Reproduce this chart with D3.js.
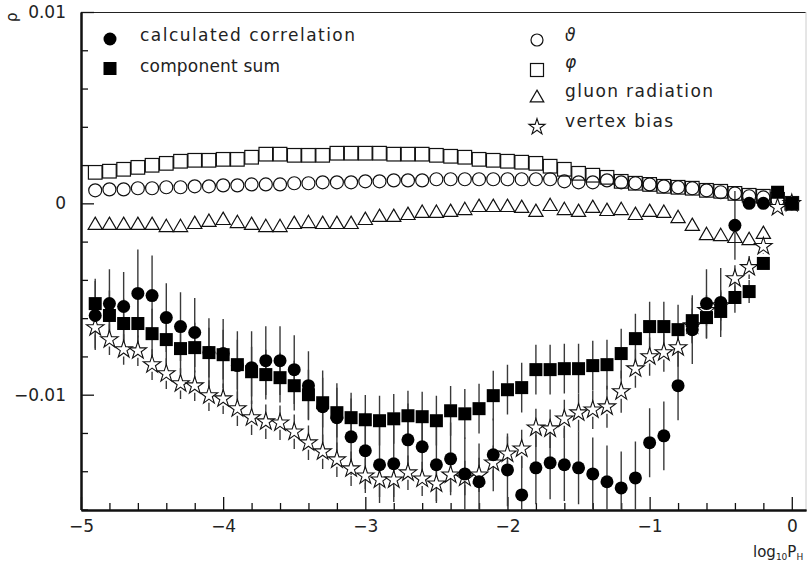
<!DOCTYPE html>
<html>
<head>
<meta charset="utf-8">
<script src="https://cdn.jsdelivr.net/npm/d3@7"></script>
<style>
  html, body { margin: 0; padding: 0; background: #fff; }
  svg { display: block; }
  text { font-family: "DejaVu Sans", sans-serif; fill: #222; }
</style>
</head>
<body>
<script>
// ---- data (log10 P_H bin centres) ----
const xBins = [-4.9,-4.8,-4.7,-4.6,-4.5,-4.4,-4.3,-4.2,-4.1,-4.0,
               -3.9,-3.8,-3.7,-3.6,-3.5,-3.4,-3.3,-3.2,-3.1,-3.0,
               -2.9,-2.8,-2.7,-2.6,-2.5,-2.4,-2.3,-2.2,-2.1,-2.0,
               -1.9,-1.8,-1.7,-1.6,-1.5,-1.4,-1.3,-1.2,-1.1,-1.0,
               -0.9,-0.8,-0.7,-0.6,-0.5,-0.4,-0.3,-0.2,-0.1,0.0];

// calculated correlation (filled circles)
const calcCorr = [-0.00586,-0.00524,-0.00539,-0.00471,-0.00482,-0.00597,-0.00644,-0.00675,-0.00780,-0.00785,
                  -0.00848,-0.00859,-0.00822,-0.00822,-0.00869,-0.00953,-0.01063,-0.01120,-0.01220,-0.01293,
                  -0.01366,-0.01361,-0.01236,-0.01272,-0.01366,-0.01335,-0.01414,-0.01455,-0.01314,-0.01393,
                  -0.01524,-0.01382,-0.01356,-0.01366,-0.01382,-0.01414,-0.01455,-0.01487,-0.01435,-0.01251,
                  -0.01215,-0.00953,-0.00660,-0.00524,-0.00518,-0.00115,0.00000,0.00000,null,0.00000];
const calcErr = [0.0018,0.0018,0.0018,0.0023,0.0021,0.0018,0.0018,0.0018,0.0018,0.0018,
                 0.0018,0.0019,0.0018,0.0018,0.0018,0.0018,0.0019,0.0018,0.0020,0.0020,
                 0.0020,0.0020,0.0019,0.0019,0.0020,0.0019,0.0019,0.0020,0.0019,0.0019,
                 0.0020,0.0019,0.0019,0.0019,0.0019,0.0019,0.0019,0.0019,0.0019,0.0018,
                 0.0018,0.0018,0.0018,0.0018,0.0018,0.0018,0.0002,0.0002,0.0002,0.0002];

// component sum (filled squares)
const compSum = [-0.00524,-0.00586,-0.00628,-0.00628,-0.00681,-0.00712,-0.00759,-0.00754,-0.00780,-0.00791,
                 -0.00843,-0.00880,-0.00895,-0.00911,-0.00953,-0.01000,-0.01042,-0.01094,-0.01120,-0.01131,
                 -0.01136,-0.01126,-0.01110,-0.01115,-0.01136,-0.01084,-0.01100,-0.01073,-0.01005,-0.00974,
                 -0.00963,-0.00869,-0.00869,-0.00864,-0.00864,-0.00848,-0.00843,-0.00785,-0.00707,-0.00644,
                 -0.00644,-0.00660,-0.00613,-0.00597,-0.00565,-0.00492,-0.00461,-0.00314,0.00058,0.00000];
const compErr = [0.0013,0.0013,0.0013,0.0013,0.0013,0.0013,0.0013,0.0013,0.0013,0.0013,
                 0.0013,0.0013,0.0013,0.0013,0.0013,0.0013,0.0013,0.0013,0.0013,0.0013,
                 0.0013,0.0013,0.0013,0.0013,0.0013,0.0013,0.0013,0.0013,0.0013,0.0013,
                 0.0013,0.0013,0.0013,0.0013,0.0013,0.0013,0.0013,0.0013,0.0013,0.0013,
                 0.0013,0.0013,0.0012,0.0011,0.0010,0.0008,0.0006,0.0003,0.0002,0.0001];

// theta (open circles)
const theta = [0.00068,0.00073,0.00073,0.00079,0.00079,0.00084,0.00084,0.00089,0.00089,0.00094,
               0.00094,0.00099,0.00099,0.00099,0.00105,0.00105,0.00110,0.00110,0.00110,0.00115,
               0.00115,0.00120,0.00120,0.00120,0.00126,0.00126,0.00126,0.00126,0.00126,0.00126,
               0.00126,0.00126,0.00126,0.00115,0.00110,0.00110,0.00120,0.00110,0.00105,0.00099,
               0.00089,0.00084,0.00079,0.00068,0.00058,0.00052,0.00037,0.00031,0.00016,0.00000];

// phi (open squares)
const phi = [0.00162,0.00168,0.00178,0.00188,0.00199,0.00209,0.00220,0.00225,0.00225,0.00230,
             0.00230,0.00241,0.00257,0.00257,0.00251,0.00251,0.00251,0.00262,0.00262,0.00262,
             0.00262,0.00257,0.00257,0.00257,0.00251,0.00246,0.00241,0.00230,0.00225,0.00220,
             0.00215,0.00209,0.00194,0.00178,0.00157,0.00147,0.00136,0.00115,0.00105,0.00099,
             0.00089,0.00084,0.00079,0.00068,0.00063,0.00052,0.00042,0.00037,0.00021,0.00000];

// gluon radiation (open triangles)
const gluon = [-0.00115,-0.00115,-0.00115,-0.00115,-0.00115,-0.00126,-0.00126,-0.00110,-0.00099,-0.00089,
               -0.00105,-0.00115,-0.00126,-0.00126,-0.00110,-0.00105,-0.00110,-0.00110,-0.00110,-0.00089,
               -0.00073,-0.00073,-0.00063,-0.00052,-0.00052,-0.00047,-0.00037,-0.00021,-0.00021,-0.00021,
               -0.00026,-0.00047,-0.00016,-0.00037,-0.00047,-0.00026,-0.00042,-0.00037,-0.00063,-0.00047,
               -0.00052,-0.00079,-0.00120,-0.00168,-0.00173,-0.00183,-0.00194,-0.00162,null,null];
const gluonErr = 0.0003;

// vertex bias (open stars)
const vertex = [-0.00649,-0.00712,-0.00764,-0.00770,-0.00843,-0.00890,-0.00942,-0.00953,-0.01005,-0.01021,
                -0.01073,-0.01120,-0.01141,-0.01147,-0.01194,-0.01251,-0.01298,-0.01340,-0.01387,-0.01424,
                -0.01445,-0.01445,-0.01408,-0.01440,-0.01466,-0.01419,-0.01435,-0.01419,-0.01356,-0.01309,
                -0.01283,-0.01173,-0.01178,-0.01126,-0.01094,-0.01079,-0.01063,-0.00984,-0.00864,-0.00801,
                -0.00780,-0.00754,-0.00639,-0.00560,-0.00534,-0.00393,-0.00335,-0.00225,-0.00021,0.00000];
const vertexErr = [0.0011,0.0008,0.0008,0.0008,0.0008,0.0008,0.0008,0.0008,0.0008,0.0008,
                   0.0009,0.0009,0.0009,0.0009,0.0009,0.0009,0.0009,0.0009,0.0009,0.0009,
                   0.0009,0.0009,0.0009,0.0009,0.0009,0.0009,0.0009,0.0009,0.0009,0.0009,
                   0.0010,0.0010,0.0010,0.0010,0.0010,0.0010,0.0011,0.0011,0.0010,0.0010,
                   0.0010,0.0010,0.0009,0.0008,0.0008,0.0007,0.0006,0.0004,0.0002,0.0001];

const xTickMajor = [-5,-4,-3,-2,-1,0];
const yTickMajor = [-0.01,0,0.01];

// ---- layout ----
const W = 807, H = 564;
const x = d3.scaleLinear().domain([-5, 0.1]).range([81, 806]);
const y = d3.scaleLinear().domain([-0.016, 0.01]).range([509.5, 12]);

const svg = d3.select("body").append("svg").attr("width", W).attr("height", H);

svg.append("clipPath").attr("id", "clip").append("rect")
  .attr("x", 81).attr("y", 12).attr("width", 725).attr("height", 497.5);

// frame (top and right)
svg.append("line").attr("x1", 81).attr("x2", 806).attr("y1", 12.5).attr("y2", 12.5)
  .attr("stroke", "#222").attr("stroke-width", 1.2);
svg.append("line").attr("x1", 806).attr("x2", 806).attr("y1", 12).attr("y2", 510)
  .attr("stroke", "#ccc").attr("stroke-width", 1);

// axes
const xMinor = d3.range(-4.8, 0.1, 0.2).map(v => +v.toFixed(1)).filter(v => Math.abs(v - Math.round(v)) > 1e-6);
const yMinor = d3.range(-0.016, 0.0101, 0.002).map(v => +v.toFixed(3)).filter(v => !yTickMajor.some(m => Math.abs(m - v) < 1e-9));

const gx = svg.append("g").attr("transform", "translate(0,510)");
gx.call(d3.axisBottom(x).tickValues(xMinor).tickSize(-7).tickSizeOuter(0).tickFormat(""));
gx.append("g").call(d3.axisBottom(x).tickValues(xTickMajor).tickSize(-13).tickSizeOuter(0).tickPadding(10)
  .tickFormat(d => d === 0 ? "0" : "\u2212" + Math.abs(d)));
gx.selectAll("path.domain").attr("stroke", "#111").attr("stroke-width", 2);
gx.selectAll("line").attr("stroke", "#111").attr("stroke-width", 1.3);
gx.selectAll("text").style("font-size", "17px").attr("fill", "#222");

const gy = svg.append("g").attr("transform", "translate(81,0)");
gy.call(d3.axisLeft(y).tickValues(yMinor).tickSize(-7).tickSizeOuter(0).tickFormat(""));
gy.append("g").call(d3.axisLeft(y).tickValues(yTickMajor).tickSize(-13).tickSizeOuter(0).tickPadding(15)
  .tickFormat(d => d === 0 ? "0" : (d < 0 ? "\u2212" : "") + Math.abs(d)));
gy.selectAll("path.domain").attr("stroke", "#111").attr("stroke-width", 2);
gy.selectAll("line").attr("stroke", "#111").attr("stroke-width", 1.3);
gy.selectAll("text").style("font-size", "17px").attr("fill", "#222");

// axis titles
const xt = svg.append("text").attr("x", 753).attr("y", 557).style("font-size", "15px");
xt.append("tspan").text("log");
xt.append("tspan").attr("dy", 3).style("font-size", "9px").text("10");
xt.append("tspan").attr("dy", -3).text("P");
xt.append("tspan").attr("dy", 3).style("font-size", "9px").text("H");

svg.append("text").attr("transform", "translate(17,22) rotate(-90)")
  .style("font-size", "15px").text("\u03c1");

// ---- marks ----
const plot = svg.append("g").attr("clip-path", "url(#clip)");

function errBars(vals, errs, half) {
  const segs = [];
  vals.forEach((v, i) => {
    if (v === null) return;
    const e = Array.isArray(errs) ? errs[i] : errs;
    const cx = x(xBins[i]), cy = y(v);
    const top = y(v + e), bot = y(v - e);
    if (cy - half > top) segs.push([cx, top, cy - half]);
    if (bot > cy + half) segs.push([cx, cy + half, bot]);
  });
  plot.append("g").selectAll("line").data(segs).join("line")
    .attr("x1", d => d[0]).attr("x2", d => d[0])
    .attr("y1", d => d[1]).attr("y2", d => d[2])
    .attr("stroke", "#3a3a3a").attr("stroke-width", 1.4);
}

const pts = vals => vals.map((v, i) => ({ x: xBins[i], v })).filter(d => d.v !== null);

errBars(gluon, gluonErr, 6);
errBars(calcCorr, calcErr, 6);
errBars(compSum, compErr, 6);
errBars(vertex, vertexErr, 7);

// theta: open circles
plot.append("g").selectAll("circle").data(pts(theta)).join("circle")
  .attr("cx", d => x(d.x)).attr("cy", d => y(d.v)).attr("r", 6.5)
  .attr("fill", "none").attr("stroke", "#111").attr("stroke-width", 1.2);

// phi: open squares
plot.append("g").selectAll("rect").data(pts(phi)).join("rect")
  .attr("x", d => x(d.x) - 6.8).attr("y", d => y(d.v) - 6.8).attr("width", 13.6).attr("height", 13.6)
  .attr("fill", "none").attr("stroke", "#111").attr("stroke-width", 1.2);

// gluon: open triangles
const tri = d3.symbol().type(d3.symbolTriangle).size(88);
plot.append("g").selectAll("path").data(pts(gluon)).join("path")
  .attr("d", tri).attr("transform", d => `translate(${x(d.x)},${y(d.v)})`)
  .attr("fill", "none").attr("stroke", "#111").attr("stroke-width", 1.2);

// vertex bias: open stars
const star = d3.symbol().type(d3.symbolStar).size(95);
plot.append("g").selectAll("path").data(pts(vertex)).join("path")
  .attr("d", star).attr("transform", d => `translate(${x(d.x)},${y(d.v)})`)
  .attr("fill", "#fff").attr("stroke", "#111").attr("stroke-width", 1.1);

// calculated correlation: filled circles
plot.append("g").selectAll("circle").data(pts(calcCorr)).join("circle")
  .attr("cx", d => x(d.x)).attr("cy", d => y(d.v)).attr("r", 6.5).attr("fill", "#000");

// component sum: filled squares
plot.append("g").selectAll("rect").data(pts(compSum)).join("rect")
  .attr("x", d => x(d.x) - 6.5).attr("y", d => y(d.v) - 6.5).attr("width", 13).attr("height", 13)
  .attr("fill", "#000");

// ---- legends ----
const lg = svg.append("g");
lg.append("circle").attr("cx", 110).attr("cy", 39).attr("r", 6.5).attr("fill", "#000");
lg.append("text").attr("x", 140).attr("y", 41).style("font-size", "17px")
  .attr("textLength", 215).attr("lengthAdjust", "spacing").text("calculated correlation");
lg.append("rect").attr("x", 103.5).attr("y", 62).attr("width", 13).attr("height", 13).attr("fill", "#000");
lg.append("text").attr("x", 140).attr("y", 72).style("font-size", "17px")
  .attr("textLength", 140).attr("lengthAdjust", "spacing").text("component sum");

lg.append("circle").attr("cx", 537).attr("cy", 40).attr("r", 6).attr("fill", "none")
  .attr("stroke", "#111").attr("stroke-width", 1.2);
lg.append("text").attr("x", 565).attr("y", 41).style("font-size", "17px").style("font-style", "italic").text("\u03d1");
lg.append("rect").attr("x", 530.5).attr("y", 63.5).attr("width", 13).attr("height", 13).attr("fill", "none")
  .attr("stroke", "#111").attr("stroke-width", 1.2);
lg.append("text").attr("x", 565).attr("y", 68).style("font-size", "17px").style("font-style", "italic").text("\u03c6");
lg.append("path").attr("d", d3.symbol().type(d3.symbolTriangle).size(80))
  .attr("transform", "translate(537,98)").attr("fill", "none").attr("stroke", "#111").attr("stroke-width", 1.2);
lg.append("text").attr("x", 565).attr("y", 97).style("font-size", "17px")
  .attr("textLength", 148).attr("lengthAdjust", "spacing").text("gluon radiation");
lg.append("path").attr("d", d3.symbol().type(d3.symbolStar).size(80))
  .attr("transform", "translate(537,127)").attr("fill", "#fff").attr("stroke", "#111").attr("stroke-width", 1.1);
lg.append("text").attr("x", 565).attr("y", 127).style("font-size", "17px")
  .attr("textLength", 108).attr("lengthAdjust", "spacing").text("vertex bias");
</script>
</body>
</html>
